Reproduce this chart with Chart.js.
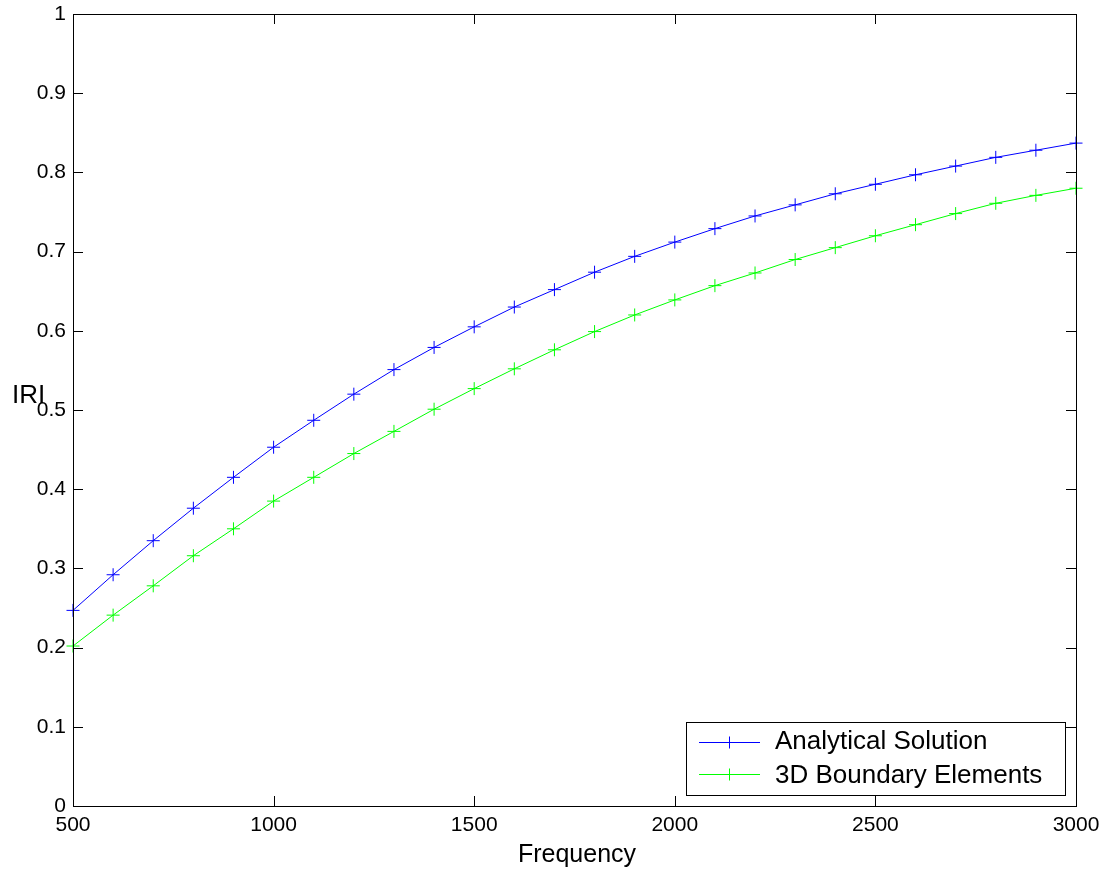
<!DOCTYPE html>
<html>
<head>
<meta charset="utf-8">
<script src="https://cdn.jsdelivr.net/npm/chart.js@4.4.1/dist/chart.umd.min.js"></script>
<style>
    html, body { margin: 0; padding: 0; background: #fff; }
    #wrap { width: 1106px; height: 875px; position: relative; }
</style>
</head>
<body>
<div id="wrap"><canvas id="chart"></canvas></div>
<script>
// Frequency values (x axis)
const frequencies = [500, 600, 700, 800, 900, 1000, 1100, 1200, 1300, 1400, 1500, 1600, 1700,
    1800, 1900, 2000, 2100, 2200, 2300, 2400, 2500, 2600, 2700, 2800, 2900, 3000];

// |R|
const analytical = [0.247, 0.292, 0.335, 0.376, 0.415, 0.453, 0.487, 0.520, 0.551, 0.579, 0.605,
    0.630, 0.652, 0.674, 0.694, 0.712, 0.729, 0.745, 0.759, 0.773, 0.785, 0.797, 0.808, 0.819,
    0.828, 0.837];
const boundaryElements = [0.202, 0.241, 0.278, 0.316, 0.350, 0.385, 0.415, 0.445, 0.473, 0.501,
    0.527, 0.552, 0.576, 0.599, 0.620, 0.639, 0.657, 0.673, 0.690, 0.705, 0.720, 0.734, 0.748,
    0.761, 0.771, 0.780];

const seriesLabels = ['Analytical Solution', '3D Boundary Elements'];
const seriesColors = ['#0000ff', '#00ff00'];

const xTicks = [500, 1000, 1500, 2000, 2500, 3000];
const yTicks = [0, 0.1, 0.2, 0.3, 0.4, 0.5, 0.6, 0.7, 0.8, 0.9, 1];

const FONT = '"Liberation Sans", Arial, Helvetica, sans-serif';

// MATLAB-style frame: box, inward ticks on all sides, axis labels, legend
const matlabFrame = {
    id: 'matlabFrame',
    afterDraw(chart) {
        const { ctx, chartArea: a, scales } = chart;
        const x = scales.x, y = scales.y;
        const tick = 10;
        ctx.save();
        ctx.strokeStyle = '#000';
        ctx.lineWidth = 1;
        ctx.beginPath();
        xTicks.forEach(v => {
            const px = Math.round(x.getPixelForValue(v)) + 0.5;
            ctx.moveTo(px, a.bottom); ctx.lineTo(px, a.bottom - tick);
            ctx.moveTo(px, a.top); ctx.lineTo(px, a.top + tick);
        });
        yTicks.forEach(v => {
            const py = Math.round(y.getPixelForValue(v)) + 0.5;
            ctx.moveTo(a.left, py); ctx.lineTo(a.left + tick, py);
            ctx.moveTo(a.right, py); ctx.lineTo(a.right - tick, py);
        });
        ctx.stroke();
        ctx.strokeRect(Math.round(a.left) + 0.5, Math.round(a.top) + 0.5,
            Math.round(a.right - a.left), Math.round(a.bottom - a.top));

        // axis titles
        ctx.fillStyle = '#000';
        ctx.font = '25px ' + FONT;
        ctx.textAlign = 'center';
        ctx.textBaseline = 'alphabetic';
        ctx.fillText('Frequency', 577, 862);
        ctx.font = '26px ' + FONT;
        ctx.textAlign = 'left';
        ctx.fillText('IRI', 12, 403);

        // legend
        const box = { left: 686, top: 722, right: 1065, bottom: 795 };
        ctx.fillStyle = '#fff';
        ctx.fillRect(box.left, box.top, box.right - box.left, box.bottom - box.top);
        ctx.strokeStyle = '#000';
        ctx.strokeRect(box.left + 0.5, box.top + 0.5, box.right - box.left, box.bottom - box.top);
        ctx.font = '26px ' + FONT;
        ctx.textAlign = 'left';
        chart.data.datasets.forEach((ds, i) => {
            const ry = 742 + i * 32 + 0.5;
            ctx.strokeStyle = ds.borderColor;
            ctx.beginPath();
            ctx.moveTo(699, ry); ctx.lineTo(760, ry);
            ctx.moveTo(729.5, ry - 6); ctx.lineTo(729.5, ry + 6);
            ctx.stroke();
            ctx.fillStyle = '#000';
            ctx.fillText(ds.label, 775, 749 + i * 34);
        });
        ctx.restore();
    }
};

const makeDataset = (label, values, color) => ({
    label: label,
    data: frequencies.map((f, i) => ({ x: f, y: values[i] })),
    borderColor: color,
    backgroundColor: color,
    borderWidth: 1,
    pointStyle: 'cross',
    pointRadius: 6.5,
    pointBorderWidth: 1,
    pointHoverRadius: 6.5,
    tension: 0,
    fill: false,
    clip: 8
});

new Chart(document.getElementById('chart'), {
    type: 'line',
    data: {
        datasets: [
            makeDataset(seriesLabels[0], analytical, seriesColors[0]),
            makeDataset(seriesLabels[1], boundaryElements, seriesColors[1])
        ]
    },
    options: {
        responsive: true,
        maintainAspectRatio: false,
        animation: false,
        layout: { padding: { left: 0, right: 30, top: 14, bottom: 0 } },
        plugins: {
            legend: { display: false },
            tooltip: { enabled: false }
        },
        scales: {
            x: {
                type: 'linear',
                min: 500,
                max: 3000,
                grid: { display: false, drawTicks: false },
                border: { display: false },
                afterBuildTicks: (scale) => { scale.ticks = xTicks.map(v => ({ value: v })); },
                afterFit: (scale) => {
                    scale.height = 69;
                    scale.paddingLeft = 0;
                    scale.paddingRight = 0;
                },
                ticks: {
                    color: '#000',
                    padding: 7,
                    maxRotation: 0,
                    font: { family: FONT, size: 21 },
                    callback: (v) => String(v)
                }
            },
            y: {
                min: 0,
                max: 1,
                grid: { display: false, drawTicks: false },
                border: { display: false },
                afterBuildTicks: (scale) => { scale.ticks = yTicks.map(v => ({ value: v })); },
                afterFit: (scale) => {
                    scale.width = 73;
                    scale.paddingTop = 0;
                    scale.paddingBottom = 0;
                },
                ticks: {
                    color: '#000',
                    padding: 7,
                    font: { family: FONT, size: 21 },
                    callback: (v) => String(Math.round(v * 10) / 10)
                }
            }
        }
    },
    plugins: [matlabFrame]
});
</script>
</body>
</html>
